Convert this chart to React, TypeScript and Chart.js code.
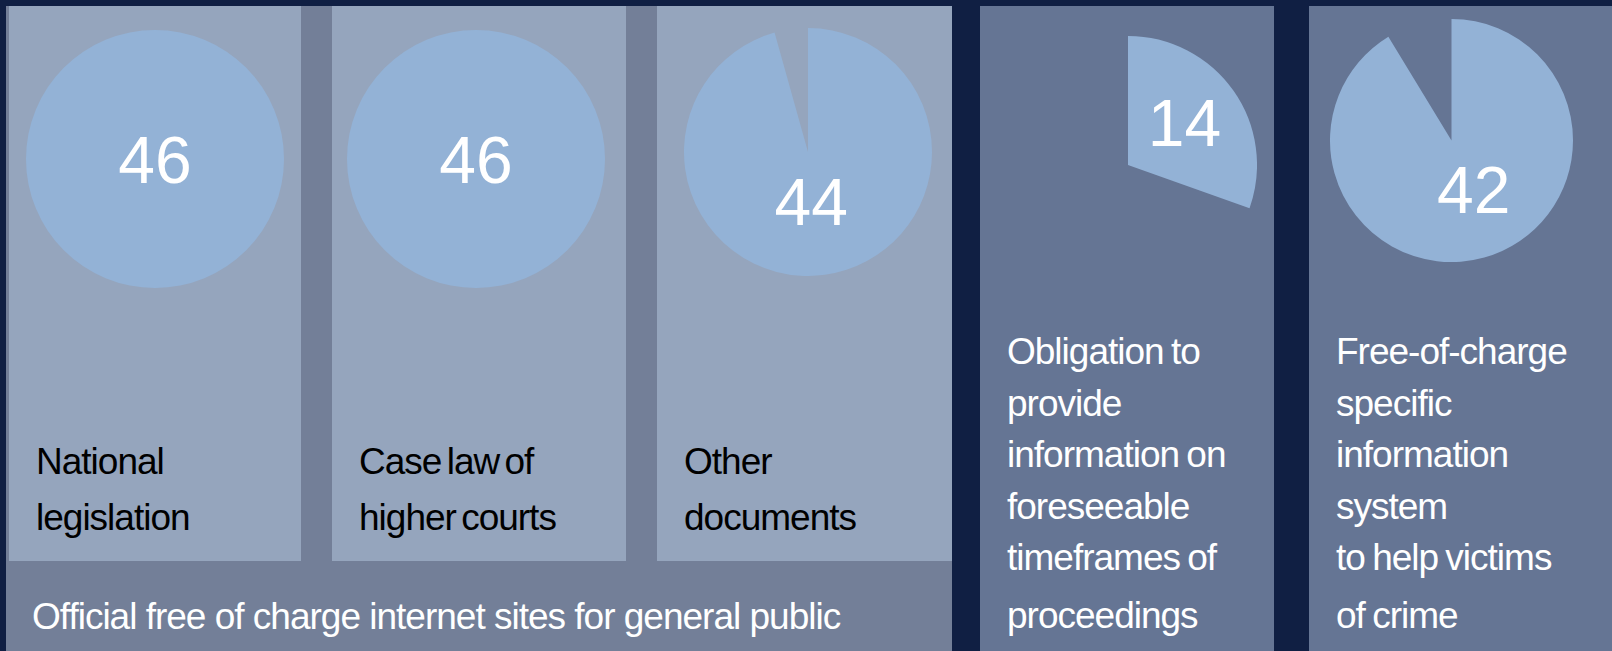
import React, { useEffect, useRef } from "react";
import { Chart, registerables } from "chart.js";

Chart.register(...registerables);

// ---------- data ----------
const TOTAL = 46;
const categories = [
  "National legislation",
  "Case law of higher courts",
  "Other documents",
  "Obligation to provide information on foreseeable timeframes of proceedings",
  "Free-of-charge specific information system to help victims of crime",
];
const values = [46, 46, 44, 14, 42];
const categoryLines = [
  ["National", "legislation"],
  ["Case law of", "higher courts"],
  ["Other", "documents"],
  ["Obligation to", "provide", "information on", "foreseeable", "timeframes of", "proceedings"],
  ["Free-of-charge", "specific", "information", "system", "to help victims", "of crime"],
];
const groupLabel = "Official free of charge internet sites for general public";

// ---------- layout / style ----------
const FONT = '"Liberation Sans", Arial, sans-serif';
const C_BG = "#101F43";
const C_GROUP = "#737F98";
const C_SUB = "#95A5BD";
const C_RIGHT = "#657594";
const C_PIE = "#93B2D6";

const PIE_LAYOUT = [
  { cx: 155, cy: 159, r: 129 },
  { cx: 476, cy: 159, r: 129 },
  { cx: 808, cy: 151.5, r: 124 },
  { cx: 1128, cy: 165, r: 129 },
  { cx: 1451.5, cy: 140, r: 121.5 },
];
const LABEL_RADIUS = [0, 0, 0.4, 0.55, 0.44];
const LABEL_ANGLE_SHIFT = [0, 0, 4, -2, -9];

const SUB_PANELS = [
  { x: 9, w: 292 },
  { x: 332, w: 294 },
  { x: 657, w: 295 },
];
const RIGHT_PANELS = [
  { x: 980, w: 294 },
  { x: 1309, w: 303 },
];

function Pie({ index }: { index: number }) {
  const ref = useRef<HTMLCanvasElement | null>(null);
  const { cx, cy, r } = PIE_LAYOUT[index];
  const value = values[index];
  useEffect(() => {
    if (!ref.current) return;
    const labelPlugin = {
      id: "valueLabel",
      afterDatasetsDraw(chart: any) {
        const arc = chart.getDatasetMeta(0).data[0];
        if (!arc) return;
        const p = arc.getProps(["x", "y", "startAngle", "endAngle", "outerRadius"], true);
        let lx = p.x;
        let ly = p.y;
        if (value < TOTAL) {
          const mid = (p.startAngle + p.endAngle) / 2 + (LABEL_ANGLE_SHIFT[index] * Math.PI) / 180;
          lx = p.x + Math.cos(mid) * LABEL_RADIUS[index] * p.outerRadius;
          ly = p.y + Math.sin(mid) * LABEL_RADIUS[index] * p.outerRadius;
        }
        const ctx = chart.ctx;
        ctx.save();
        const fs = 66;
        ctx.font = `${fs}px ${FONT}`;
        ctx.fillStyle = "#ffffff";
        ctx.textAlign = "center";
        ctx.textBaseline = "alphabetic";
        ctx.fillText(String(value), lx, ly + 0.358 * fs);
        ctx.restore();
      },
    };
    const chart = new Chart(ref.current, {
      type: "pie",
      data: {
        labels: [categories[index], "Other"],
        datasets: [
          {
            data: [value, TOTAL - value],
            backgroundColor: [C_PIE, "rgba(0,0,0,0)"],
            borderWidth: 0,
          },
        ],
      },
      options: {
        animation: false,
        responsive: false,
        maintainAspectRatio: false,
        devicePixelRatio: 1,
        layout: { padding: 0 },
        plugins: { legend: { display: false }, tooltip: { enabled: false } },
        events: [],
      },
      plugins: [labelPlugin],
    } as any);
    return () => chart.destroy();
  }, [index]);
  return (
    <canvas
      ref={ref}
      width={2 * r}
      height={2 * r}
      style={{ position: "absolute", left: cx - r, top: cy - r, width: 2 * r, height: 2 * r }}
    />
  );
}

const textBase: React.CSSProperties = {
  position: "absolute",
  fontFamily: FONT,
  fontSize: 37,
  letterSpacing: "-1px",
  wordSpacing: "-4px",
  whiteSpace: "nowrap",
};

export default function App() {
  return (
    <div
      style={{
        position: "fixed",
        left: 0,
        top: 0,
        width: 1612,
        height: 651,
        background: C_BG,
        overflow: "hidden",
      }}
    >
      <div style={{ position: "absolute", left: 6, top: 6, width: 946, height: 645, background: C_GROUP }} />
      {SUB_PANELS.map((p, i) => (
        <div key={"s" + i} style={{ position: "absolute", left: p.x, top: 6, width: p.w, height: 555, background: C_SUB }} />
      ))}
      {RIGHT_PANELS.map((p, i) => (
        <div key={"r" + i} style={{ position: "absolute", left: p.x, top: 6, width: p.w, height: 645, background: C_RIGHT }} />
      ))}
      {values.map((_, i) => (
        <Pie key={"p" + i} index={i} />
      ))}
      {SUB_PANELS.map((p, i) => (
        <div key={"t" + i} style={{ ...textBase, left: p.x + 27, top: 434, lineHeight: "56px", color: "#000" }}>
          {categoryLines[i].map((l, j) => (
            <div key={j}>{l}</div>
          ))}
        </div>
      ))}
      {RIGHT_PANELS.map((p, i) => (
        <div
          key={"rt" + i}
          style={{ ...textBase, left: p.x + 27, top: 326, lineHeight: "51.5px", color: "#fff", wordSpacing: "-2px" }}
        >
          {categoryLines[3 + i].map((l, j, arr) => (
            <div key={j} style={{ marginTop: j === arr.length - 1 ? 6.5 : 0 }}>
              {l}
            </div>
          ))}
        </div>
      ))}
      <div style={{ ...textBase, left: 32, top: 596, lineHeight: "41px", color: "#fff", wordSpacing: "0px" }}>
        {groupLabel}
      </div>
    </div>
  );
}
